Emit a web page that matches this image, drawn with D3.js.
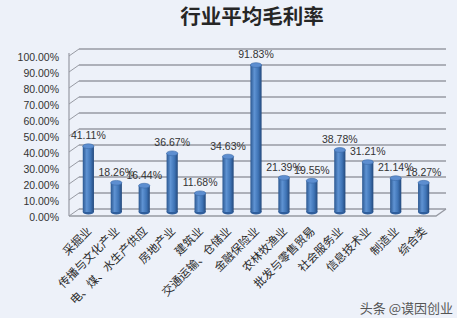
<!DOCTYPE html>
<html>
<head>
<meta charset="utf-8">
<script src="https://cdn.jsdelivr.net/npm/d3@7"></script>
<style>
  html, body { margin: 0; padding: 0; background: #edf1f9; }
  svg { display: block; font-family: "Noto Sans CJK SC", "Liberation Sans", sans-serif; }
</style>
</head>
<body>
<svg id="chart"></svg>
<script>
// Data
const categories = ["采掘业", "传播与文化产业", "电、煤、水生产供应", "房地产业", "建筑业", "交通运输、仓储业",
  "金融保险业", "农林牧渔业", "批发与零售贸易", "社会服务业", "信息技术业", "制造业", "综合类"];
const margins = [0.4111, 0.1826, 0.1644, 0.3667, 0.1168, 0.3463, 0.9183, 0.2139, 0.1955, 0.3878, 0.3121, 0.2114, 0.1827];
const yTicks = [0, 0.1, 0.2, 0.3, 0.4, 0.5, 0.6, 0.7, 0.8, 0.9, 1.0];

const width = 457, height = 318;
const depthX = 10, depthY = 7;   // 3D wall offset
const wallLeft = 69, wallRight = 436;

const svg = d3.select("#chart")
    .attr("width", width)
    .attr("height", height);

const defs = svg.append("defs");
const grad = defs.append("linearGradient").attr("id", "cyl").attr("x1", "0").attr("x2", "1").attr("y1", "0").attr("y2", "0");
grad.append("stop").attr("offset", "0%").attr("stop-color", "#2b5790");
grad.append("stop").attr("offset", "35%").attr("stop-color", "#5f93d3");
grad.append("stop").attr("offset", "70%").attr("stop-color", "#3f74b6");
grad.append("stop").attr("offset", "100%").attr("stop-color", "#24497c");

// Title
svg.append("text")
    .attr("x", 252)
    .attr("y", 24)
    .attr("text-anchor", "middle")
    .style("font-size", "20.5px")
    .style("font-weight", "bold")
    .attr("fill", "#262626")
    .text("行业平均毛利率");

// scales
const x = d3.scaleBand()
    .domain(categories)
    .range([66, 446])
    .padding(0.6);

const y = d3.scaleLinear()
    .domain([0, 1])
    .range([216, 56]);

// back wall gridlines + left wall diagonals
const grid = svg.append("g");
grid.selectAll(".grid")
    .data(yTicks)
    .enter().append("line")
    .attr("x1", wallLeft + depthX)
    .attr("x2", wallRight + depthX)
    .attr("y1", d => y(d) - depthY)
    .attr("y2", d => y(d) - depthY)
    .attr("stroke", "#979aa3")
    .attr("stroke-width", 1.4);

grid.selectAll(".diag")
    .data(yTicks)
    .enter().append("line")
    .attr("x1", wallLeft)
    .attr("x2", wallLeft + depthX)
    .attr("y1", d => y(d))
    .attr("y2", d => y(d) - depthY)
    .attr("stroke", "#979aa3")
    .attr("stroke-width", 1);

grid.append("line")
    .attr("x1", wallLeft).attr("x2", wallLeft)
    .attr("y1", y(0)).attr("y2", y(1) - 3)
    .attr("stroke", "#979aa3").attr("stroke-width", 1.2);

// floor front edge
grid.append("path")
    .attr("d", `M${wallLeft},${y(0)} L${wallRight},${y(0)} L${wallRight + depthX},${y(0) - depthY}`)
    .attr("fill", "none")
    .attr("stroke", "#979aa3")
    .attr("stroke-width", 1.3);

// y axis labels
const yAxis = svg.append("g")
    .attr("transform", `translate(${wallLeft}, 1)`)
    .call(d3.axisLeft(y).tickValues(yTicks).tickFormat(d3.format(".2%")).tickSize(0).tickPadding(10));
yAxis.select(".domain").remove();
yAxis.selectAll("text")
    .style("font-size", "10.5px")
    .style("font-family", "Liberation Sans, Arial, sans-serif")
    .attr("fill", "#333");

// bars as cylinders
const mid = -depthY / 2 - 0.5;
const bars = svg.append("g").selectAll(".bar")
    .data(categories)
    .enter().append("g")
    .attr("class", "bar");

const rx = x.bandwidth() / 2, ry = 2.4;

bars.append("ellipse")
    .attr("cx", d => x(d) + rx)
    .attr("cy", (d, i) => y(0) + mid)
    .attr("rx", rx)
    .attr("ry", ry)
    .attr("fill", "#2f5e9c");

bars.append("rect")
    .attr("x", d => x(d))
    .attr("y", (d, i) => y(margins[i]) + mid)
    .attr("width", x.bandwidth())
    .attr("height", (d, i) => y(0) - y(margins[i]))
    .attr("fill", "url(#cyl)");

bars.append("ellipse")
    .attr("cx", d => x(d) + rx)
    .attr("cy", (d, i) => y(margins[i]) + mid)
    .attr("rx", rx)
    .attr("ry", ry)
    .attr("fill", "#5d8ed0")
    .attr("stroke", "#3a6aa8")
    .attr("stroke-width", 0.6);

// value labels
bars.append("text")
    .attr("x", d => x(d) + rx)
    .attr("y", (d, i) => y(margins[i]) + mid - 7)
    .attr("text-anchor", "middle")
    .style("font-size", "10.5px")
    .style("font-family", "Liberation Sans, Arial, sans-serif")
    .attr("fill", "#333")
    .text((d, i) => d3.format(".2%")(margins[i]));

// category labels, rotated
svg.append("g").selectAll(".cat")
    .data(categories)
    .enter().append("text")
    .attr("transform", d => `translate(${x(d) + rx + 1}, 229) rotate(-45)`)
    .attr("text-anchor", "end")
    .attr("dy", "0.35em")
    .style("font-size", "11.5px")
    .attr("fill", "#2a2a2a")
    .text(d => d);

// watermark
svg.append("text")
    .attr("x", 453)
    .attr("y", 313)
    .attr("text-anchor", "end")
    .style("font-size", "13px")
    .attr("fill", "#555")
    .text("头条 @谟因创业");
</script>
</body>
</html>
